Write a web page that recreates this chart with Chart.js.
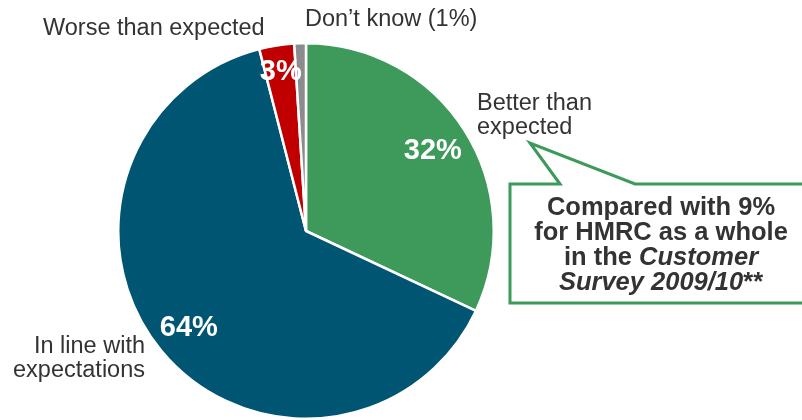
<!DOCTYPE html>
<html>
<head>
<meta charset="utf-8">
<script src="https://cdn.jsdelivr.net/npm/chart.js@4"></script>
<style>
  html, body { margin: 0; padding: 0; background: #fff; }
  #wrap { width: 802px; height: 420px; }
</style>
</head>
<body>
<div id="wrap"><canvas id="pie" width="802" height="420"></canvas></div>
<script>
const categories = ['Better than expected', 'In line with expectations', 'Worse than expected', 'Don\u2019t know'];
const shares = [32, 64, 3, 1];
const sliceColors = ['#3d9a5a', '#005573', '#c00000', '#8c8c8c'];
const pctLabels = ['32%', '64%', '3%', ''];
const pctRadius = [0.8, 0.81, 0.86, 0];

const calloutLines = [
  [{ t: 'Compared with 9%', i: false }],
  [{ t: 'for HMRC as a whole', i: false }],
  [{ t: 'in the ', i: false }, { t: 'Customer', i: true }],
  [{ t: 'Survey 2009/10', i: true }, { t: '**', i: false }],
];

const FONT = '"Liberation Sans", Arial, sans-serif';

// percentage text inside the slices
const sliceText = {
  id: 'sliceText',
  afterDatasetsDraw(chart) {
    const ctx = chart.ctx;
    const arcs = chart.getDatasetMeta(0).data;
    ctx.save();
    ctx.fillStyle = '#fff';
    ctx.font = 'bold 29px ' + FONT;
    ctx.textAlign = 'center';
    ctx.textBaseline = 'middle';
    arcs.forEach((arc, i) => {
      if (!pctLabels[i]) return;
      const mid = (arc.startAngle + arc.endAngle) / 2;
      const r = arc.outerRadius * pctRadius[i];
      ctx.fillText(pctLabels[i], arc.x + Math.cos(mid) * r, arc.y + Math.sin(mid) * r);
    });
    ctx.restore();
  }
};

// category names around the pie and the comparison callout
const outerText = {
  id: 'outerText',
  afterDraw(chart) {
    const ctx = chart.ctx;
    ctx.save();
    ctx.fillStyle = '#333';
    ctx.font = '23.5px ' + FONT;
    ctx.textBaseline = 'middle';

    ctx.textAlign = 'left';
    ctx.fillText('Worse than expected', 43, 29);
    ctx.fillText('Don\u2019t know (1%)', 305, 20);
    ctx.fillText('Better than', 477, 104);
    ctx.fillText('expected', 477, 128);

    ctx.textAlign = 'right';
    ctx.fillText('In line with', 145, 347);
    ctx.fillText('expectations', 145, 371);

    // callout box with pointer
    ctx.strokeStyle = '#3d9a5a';
    ctx.lineWidth = 3;
    ctx.lineJoin = 'miter';
    ctx.beginPath();
    ctx.moveTo(560, 184);
    ctx.lineTo(530, 143);
    ctx.lineTo(635, 184);
    ctx.lineTo(812, 184);
    ctx.lineTo(812, 303);
    ctx.lineTo(510, 303);
    ctx.lineTo(510, 184);
    ctx.closePath();
    ctx.fillStyle = '#fff';
    ctx.fill();
    ctx.stroke();

    ctx.fillStyle = '#333';
    ctx.textAlign = 'left';
    const cx = 661;
    calloutLines.forEach((parts, li) => {
      const fonts = parts.map(p => (p.i ? 'italic bold 25.5px ' : 'bold 25.5px ') + FONT);
      let w = 0;
      parts.forEach((p, k) => { ctx.font = fonts[k]; w += ctx.measureText(p.t).width; });
      let x = cx - w / 2;
      const y = 208 + li * 25;
      parts.forEach((p, k) => {
        ctx.font = fonts[k];
        ctx.fillText(p.t, x, y);
        x += ctx.measureText(p.t).width;
      });
    });
    ctx.restore();
  }
};

new Chart(document.getElementById('pie'), {
  type: 'pie',
  data: {
    labels: categories,
    datasets: [{
      data: shares,
      backgroundColor: sliceColors,
      borderColor: '#fff',
      borderWidth: 2.5,
    }],
  },
  options: {
    responsive: false,
    animation: false,
    layout: { padding: { left: 117, right: 307, top: 42, bottom: 0 } },
    plugins: { legend: { display: false }, tooltip: { enabled: false } },
  },
  plugins: [sliceText, outerText],
});
</script>
</body>
</html>
